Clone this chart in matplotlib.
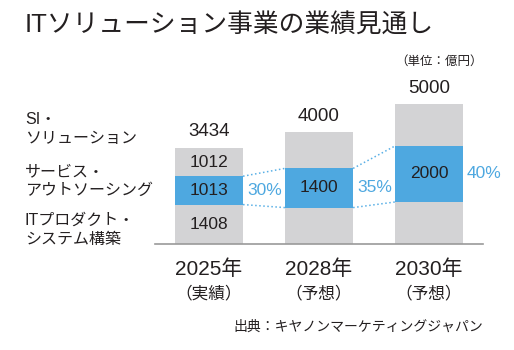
import matplotlib
matplotlib.use("Agg")
import numpy as np
import matplotlib.pyplot as plt

# Helvetica-like digits, CJK from Noto
plt.rcParams['font.family'] = ['Liberation Sans', 'Noto Sans CJK JP', 'DejaVu Sans']

# data
years = ['2025年', '2028年', '2030年']
year_notes = ['（実績）', '（予想）', '（予想）']
totals = [3434, 4000, 5000]
it_product = [1408, 1300, 1500]     # bottom (grey)
service = [1013, 1400, 2000]        # middle (blue)
si_solution = [1012, 1300, 1500]    # top (grey)
shares = ['30%', '35%', '40%']
segment_names = ['SI・\nソリューション', 'サービス・\nアウトソーシング', 'ITプロダクト・\nシステム構築']

GREY = '#d3d3d5'
BLUE = '#4ea8e0'
LINE_BLUE = '#5ab0e6'
TXT = '#231f20'

W, H = 514, 350
fig = plt.figure(figsize=(W / 100, H / 100), dpi=100)

# axes placed in pixel terms: x 155..483, baseline at y=244 from top
ax_left, ax_right, ax_base, ax_top = 155, 483, 244, 80
ax = fig.add_axes([ax_left / W, (H - ax_base) / H,
                   (ax_right - ax_left) / W, (ax_base - ax_top) / H])
ax.set_xlim(-0.49, 2.49)
ax.set_ylim(0, (ax_base - ax_top) / 0.028)
ax.axis('off')

x = np.arange(len(years))
bw = 0.62
bottoms2 = np.array(it_product)
bottoms3 = bottoms2 + np.array(service)
ax.bar(x, it_product, bw, color=GREY)
ax.bar(x, service, bw, bottom=bottoms2, color=BLUE)
ax.bar(x, si_solution, bw, bottom=bottoms3, color=GREY)

# baseline
ax.plot([-0.49, 2.49], [0, 0], color='#9a9a9a', lw=1.2, clip_on=False)

# dotted connectors between blue segments
for i in range(len(x) - 1):
    for ys in (bottoms2, bottoms3):
        ax.plot([x[i] + bw / 2, x[i + 1] - bw / 2], [ys[i], ys[i + 1]],
                color=LINE_BLUE, ls=':', lw=1.1)

for i in range(len(x)):
    ax.annotate(str(totals[i]), (x[i], it_product[i] + service[i] + si_solution[i]),
                xytext=(0, 11.5), textcoords='offset points',
                ha='center', va='center', fontsize=13.5, color=TXT)
    ax.text(x[i], bottoms2[i] + service[i] / 2, str(service[i]),
            ha='center', va='center', fontsize=12.5, color=TXT)
    ax.text(x[i] + bw / 2 + 0.035, bottoms2[i] + service[i] / 2, shares[i],
            ha='left', va='center', fontsize=12.5, color=BLUE)
    ax.annotate(years[i], (x[i], 0), xytext=(0, -18), textcoords='offset points',
                ha='center', va='center', fontsize=15, color=TXT)
    ax.annotate(year_notes[i], (x[i], 0), xytext=(0, -35.5), textcoords='offset points',
                ha='center', va='center', fontsize=12, color=TXT)

ax.text(x[0], it_product[0] / 2, str(it_product[0]),
        ha='center', va='center', fontsize=12.5, color=TXT)
ax.text(x[0], bottoms3[0] + si_solution[0] / 2, str(si_solution[0]),
        ha='center', va='center', fontsize=12.5, color=TXT)

# segment names on the left
label_y = [129, 181, 230]
for name, yy in zip(segment_names, label_y):
    fig.text(25 / W, 1 - yy / H, name, ha='left', va='center',
             fontsize=11.5, color=TXT, linespacing=1.35)

fig.text(25 / W, 1 - 25 / H, 'ITソリューション事業の業績見通し',
         ha='left', va='center', fontsize=18.5, color=TXT)
fig.text(483 / W, 1 - 62 / H, '（単位：億円）', ha='right', va='center',
         fontsize=9, color=TXT)
fig.text(483 / W, 1 - 327 / H, '出典：キヤノンマーケティングジャパン',
         ha='right', va='center', fontsize=10, color=TXT)

fig.savefig('out.png', dpi=100, facecolor='white')
